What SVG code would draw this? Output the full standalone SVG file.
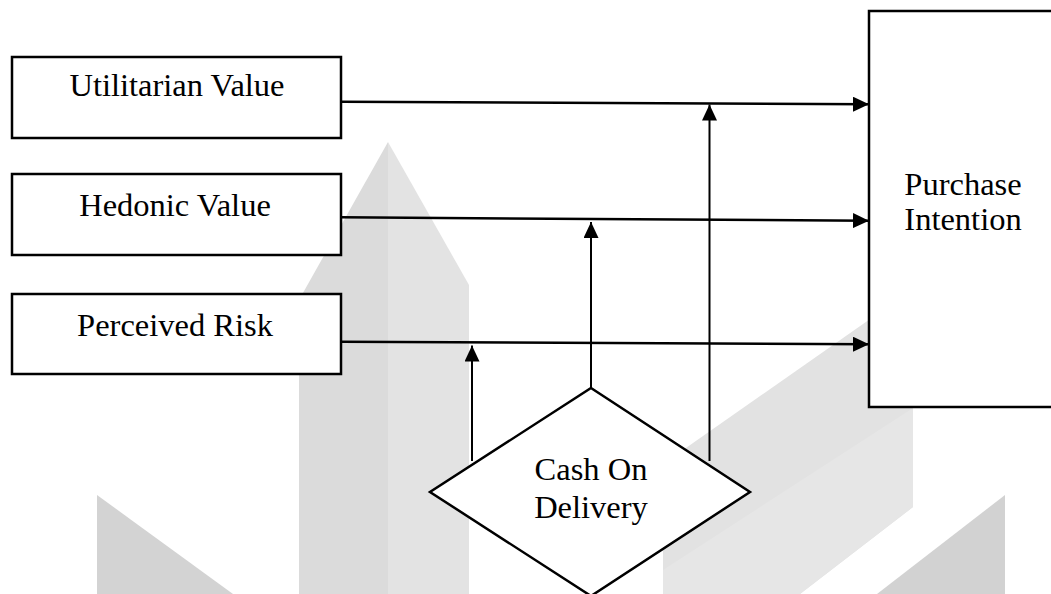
<svg xmlns="http://www.w3.org/2000/svg" width="1051" height="594" viewBox="0 0 1051 594">
  <style>
    .box { fill: #ffffff; stroke: #000000; stroke-width: 2.5; }
    .lbl { font-family: "Liberation Serif", "Times New Roman", serif; font-size: 32.5px; fill: #000000; text-anchor: middle; }
    .link { stroke: #000000; stroke-width: 2.5; fill: none; marker-end: url(#head); }
    .up { stroke: #000000; stroke-width: 2; fill: none; marker-end: url(#head); }
  </style>
  <defs>
    <marker id="head" viewBox="0 0 16 15" refX="16" refY="7.5" markerWidth="16" markerHeight="15" markerUnits="userSpaceOnUse" orient="auto">
      <path d="M0,0 L16,7.5 L0,15 Z" fill="#000000"/>
    </marker>
  </defs>

  <rect x="0" y="0" width="1051" height="594" fill="#ffffff"/>

  <!-- faint background emblem -->
  <g id="emblem">
    <polygon points="97,495 233,594 97,594" fill="#d3d3d3"/>
    <polygon points="388,142 388,594 299,594 299,300" fill="#dbdbdb"/>
    <polygon points="388,142 469,285 469,594 388,594" fill="#e3e3e3"/>
    <polygon points="663,464 913,289 913,507 800,594 663,594" fill="#e2e2e2"/>
    <polygon points="663,570 913,408 913,507 800,594 663,594" fill="#e6e6e6"/>
    <polygon points="877,594 1005,495 1005,594" fill="#d2d2d2"/>
  </g>

  <!-- connectors -->
  <g id="connectors">
    <path class="link" d="M341,101.7 L869,104.3"/>
    <path class="link" d="M341,217.3 L869,220.7"/>
    <path class="link" d="M341,341.7 L869,344.3"/>
    <path class="up" d="M472,461 L472,345.5"/>
    <path class="up" d="M591,388 L591,222"/>
    <path class="up" d="M709.5,461 L709.5,104.5"/>
  </g>

  <g id="utilitarian-value">
    <rect class="box" x="12" y="57" width="329" height="81"/>
    <text class="lbl" x="177" y="95.5">Utilitarian Value</text>
  </g>

  <g id="hedonic-value">
    <rect class="box" x="12" y="174" width="329" height="81"/>
    <text class="lbl" x="175" y="215.5">Hedonic Value</text>
  </g>

  <g id="perceived-risk">
    <rect class="box" x="12" y="294" width="329" height="80"/>
    <text class="lbl" x="175" y="335.5">Perceived Risk</text>
  </g>

  <g id="purchase-intention">
    <rect class="box" x="869" y="11" width="200" height="396"/>
    <text class="lbl" x="963" y="195">Purchase</text>
    <text class="lbl" x="963" y="230">Intention</text>
  </g>

  <g id="cash-on-delivery">
    <polygon class="box" points="591,388 750,492 591,596 430,492"/>
    <text class="lbl" x="591" y="480">Cash On</text>
    <text class="lbl" x="591" y="518">Delivery</text>
  </g>
</svg>
